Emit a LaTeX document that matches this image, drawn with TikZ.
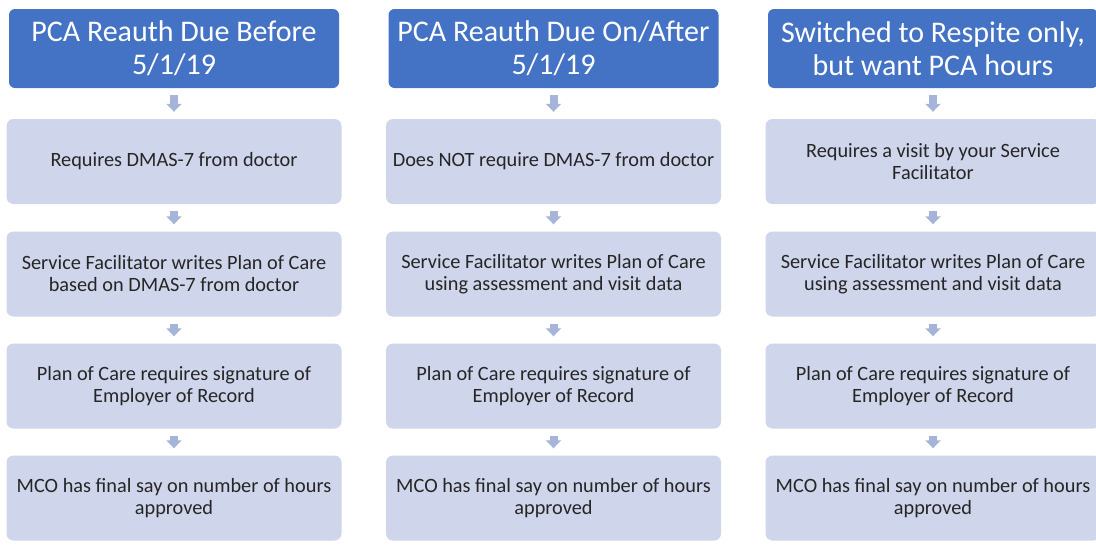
\documentclass[tikz,border=0pt]{standalone}
\usepackage{fontspec}
\setmainfont{Carlito}
\usepackage{tikz}
\usetikzlibrary{arrows.meta}

\definecolor{headblue}{HTML}{4472C4}
\definecolor{boxgray}{HTML}{CFD5EA}
\definecolor{arrowgray}{HTML}{A7B4DA}

\tikzset{
	headbox/.style={fill=headblue, rounded corners=6pt, minimum width=330pt, minimum height=79pt, align=center, text=white, font=\fontsize{30}{33}\selectfont},
	stepbox/.style={fill=boxgray, rounded corners=7pt, minimum width=335pt, minimum height=85pt, align=center, text=black!85, font=\fontsize{20.3}{22}\selectfont},
	flow/.style={draw=arrowgray, line width=8pt, -{Triangle[width=15pt, length=8pt]}, shorten <=7pt, shorten >=7pt}
}

\begin{document}
\begin{tikzpicture}[x=1pt, y=-1pt]
	\def \ca{174} % column centres
	\def \cb{553.5}
	\def \cc{933}
	\useasboundingbox (0, 0) rectangle (1096, 544);
	%headers
	\node[headbox] (h1) at (\ca, 48.5) {PCA Reauth Due Before\\5/1/19};
	\node[headbox] (h2) at (\cb, 48.5) {PCA Reauth Due On/After\\5/1/19};
	\node[headbox] (h3) at (\cc, 48.5) {Switched to Respite only,\\but want PCA hours};
	%first column
	\node[stepbox] (a1) at (\ca, 161.5) {Requires DMAS-7 from doctor};
	\node[stepbox] (a2) at (\ca, 274) {Service Facilitator writes Plan of Care\\based on DMAS-7 from doctor};
	\node[stepbox] (a3) at (\ca, 386) {Plan of Care requires signature of\\Employer of Record};
	\node[stepbox] (a4) at (\ca, 498) {MCO has final say on number of hours\\approved};
	%second column
	\node[stepbox] (b1) at (\cb, 161.5) {Does NOT require DMAS-7 from doctor};
	\node[stepbox] (b2) at (\cb, 274) {Service Facilitator writes Plan of Care\\using assessment and visit data};
	\node[stepbox] (b3) at (\cb, 386) {Plan of Care requires signature of\\Employer of Record};
	\node[stepbox] (b4) at (\cb, 498) {MCO has final say on number of hours\\approved};
	%third column
	\node[stepbox] (c1) at (\cc, 161.5) {Requires a visit by your Service\\Facilitator};
	\node[stepbox] (c2) at (\cc, 274) {Service Facilitator writes Plan of Care\\using assessment and visit data};
	\node[stepbox] (c3) at (\cc, 386) {Plan of Care requires signature of\\Employer of Record};
	\node[stepbox] (c4) at (\cc, 498) {MCO has final say on number of hours\\approved};
	%arrows
	\draw[flow] (h1) -- (a1);
	\draw[flow] (a1) -- (a2);
	\draw[flow] (a2) -- (a3);
	\draw[flow] (a3) -- (a4);
	\draw[flow] (h2) -- (b1);
	\draw[flow] (b1) -- (b2);
	\draw[flow] (b2) -- (b3);
	\draw[flow] (b3) -- (b4);
	\draw[flow] (h3) -- (c1);
	\draw[flow] (c1) -- (c2);
	\draw[flow] (c2) -- (c3);
	\draw[flow] (c3) -- (c4);
\end{tikzpicture}
\end{document}
